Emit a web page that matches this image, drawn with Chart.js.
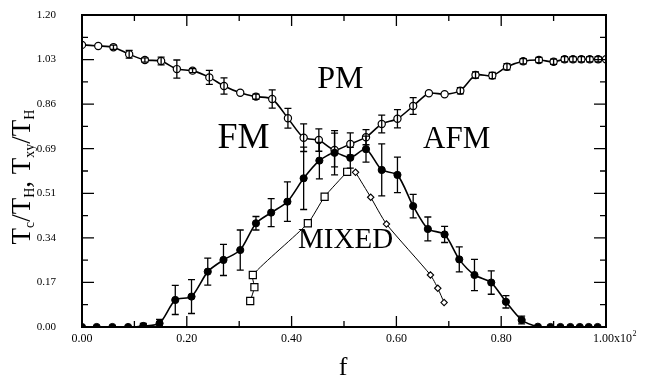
<!DOCTYPE html>
<html>
<head>
<meta charset="utf-8">
<script src="https://cdn.jsdelivr.net/npm/chart.js@4.4.1/dist/chart.umd.min.js"></script>
<style>
html, body { margin: 0; padding: 0; background: #fff; }
</style>
</head>
<body>
<canvas id="myChart" width="645" height="379"></canvas>
<script>
// upper curve (open circles), PM boundary
const pm_f = [0.000, 0.031, 0.060, 0.090, 0.120, 0.151, 0.181, 0.211, 0.243, 0.271, 0.302, 0.332, 0.363, 0.393,
    0.423, 0.452, 0.482, 0.512, 0.542, 0.572, 0.602, 0.632, 0.662, 0.692, 0.722, 0.751, 0.783, 0.811, 0.842,
    0.872, 0.900, 0.921, 0.937, 0.953, 0.969, 0.985, 1.000];
const pm_t = [1.085, 1.081, 1.076, 1.049, 1.027, 1.023, 0.992, 0.986, 0.960, 0.927, 0.901, 0.886, 0.877, 0.803,
    0.728, 0.719, 0.681, 0.704, 0.730, 0.781, 0.801, 0.850, 0.899, 0.895, 0.909, 0.969, 0.967, 1.001, 1.022,
    1.027, 1.020, 1.030, 1.030, 1.030, 1.030, 1.030, 1.030];
const pm_err = [0, 0, 0.008, 0.015, 0.008, 0.015, 0.035, 0.008, 0.027, 0.031, 0, 0.010, 0.035, 0.038,
    0.053, 0.043, 0.065, 0.043, 0.029, 0.034, 0.035, 0.032, 0, 0, 0.012, 0.012, 0.012, 0.012, 0.010,
    0.010, 0.010, 0.010, 0.010, 0.010, 0.010, 0.010, 0];

// lower curve (filled circles)
const fm_f = [0.000, 0.028, 0.058, 0.088, 0.117, 0.148, 0.178, 0.209, 0.240, 0.270, 0.302, 0.332, 0.361, 0.392,
    0.423, 0.453, 0.482, 0.512, 0.542, 0.572, 0.602, 0.632, 0.660, 0.692, 0.720, 0.749, 0.781, 0.809, 0.839,
    0.870, 0.894, 0.913, 0.932, 0.950, 0.967, 0.984];
const fm_t = [0.000, 0.000, 0.000, 0.000, 0.004, 0.014, 0.104, 0.117, 0.213, 0.258, 0.296, 0.399, 0.440, 0.482,
    0.572, 0.640, 0.670, 0.651, 0.684, 0.604, 0.585, 0.465, 0.377, 0.356, 0.260, 0.200, 0.171, 0.097, 0.027,
    0.001, 0.000, 0.000, 0.000, 0.000, 0.000, 0.000];
const fm_err = [0, 0, 0, 0, 0.010, 0.015, 0.056, 0.065, 0.052, 0.060, 0.077, 0.026, 0.054, 0.076,
    0.120, 0.070, 0.085, 0.040, 0.050, 0.100, 0.068, 0.045, 0.046, 0.031, 0.048, 0.060, 0.045, 0.024, 0.015,
    0, 0, 0, 0, 0, 0, 0];

// mixed phase, left branch (squares) and right branch (diamonds)
const mix_sq_f = [0.321, 0.329, 0.326, 0.431, 0.463, 0.506];
const mix_sq_t = [0.100, 0.153, 0.200, 0.399, 0.501, 0.597];
const mix_di_f = [0.522, 0.551, 0.581, 0.665, 0.679, 0.691];
const mix_di_t = [0.595, 0.499, 0.396, 0.200, 0.149, 0.094];

const x_ticks = [0, 0.2, 0.4, 0.6, 0.8, 1.0];
const x_tick_labels = ['0.00', '0.20', '0.40', '0.60', '0.80', '1.00x10'];
const y_tick_labels = ['0.00', '0.17', '0.34', '0.51', '0.69', '0.86', '1.03', '1.20'];

const phase_labels = [
    { text: 'PM', f: 0.493, t: 0.919, size: 32 },
    { text: 'FM', f: 0.308, t: 0.688, size: 36 },
    { text: 'AFM', f: 0.715, t: 0.688, size: 31 },
    { text: 'MIXED', f: 0.503, t: 0.304, size: 29 },
];

const SERIF = '"Liberation Serif", "DejaVu Serif", serif';

function pts(xs, ys) {
    return xs.map((x, i) => ({ x: x, y: ys[i] }));
}

const errorBars = {
    id: 'errorBars',
    afterDatasetsDraw(chart) {
        const ctx = chart.ctx;
        const xs = chart.scales.x, ys = chart.scales.y;
        ctx.save();
        ctx.strokeStyle = '#000';
        ctx.lineWidth = 1.3;
        chart.data.datasets.forEach(ds => {
            if (!ds.errors) return;
            ds.data.forEach((p, i) => {
                const e = ds.errors[i];
                if (!e) return;
                const px = xs.getPixelForValue(p.x);
                const y1 = ys.getPixelForValue(p.y + e);
                const y2 = ys.getPixelForValue(Math.max(0, p.y - e));
                ctx.beginPath();
                ctx.moveTo(px, y1); ctx.lineTo(px, y2);
                ctx.moveTo(px - 3.5, y1); ctx.lineTo(px + 3.5, y1);
                ctx.moveTo(px - 3.5, y2); ctx.lineTo(px + 3.5, y2);
                ctx.stroke();
            });
        });
        ctx.restore();
    }
};

const frame = {
    id: 'frame',
    afterDraw(chart) {
        const ctx = chart.ctx;
        const a = chart.chartArea;
        const xs = chart.scales.x, ys = chart.scales.y;
        ctx.save();
        ctx.strokeStyle = '#000';
        ctx.fillStyle = '#000';

        // inward ticks, major and minor
        ctx.lineWidth = 1.3;
        ctx.beginPath();
        for (let i = 0; i <= 10; i++) {
            const px = xs.getPixelForValue(i / 10);
            const len = i % 2 === 0 ? 11 : 6;
            ctx.moveTo(px, a.bottom); ctx.lineTo(px, a.bottom - len);
            ctx.moveTo(px, a.top); ctx.lineTo(px, a.top + len);
        }
        const ystep = 1.2 / (y_tick_labels.length - 1);
        for (let i = 0; i <= 2 * (y_tick_labels.length - 1); i++) {
            const py = ys.getPixelForValue(i * ystep / 2);
            const len = i % 2 === 0 ? 12 : 6;
            ctx.moveTo(a.left, py); ctx.lineTo(a.left + len, py);
            ctx.moveTo(a.right, py); ctx.lineTo(a.right - len, py);
        }
        ctx.stroke();

        // frame
        ctx.lineWidth = 2;
        ctx.strokeRect(a.left, a.top, a.right - a.left, a.bottom - a.top);

        // y tick labels
        ctx.font = '11px ' + SERIF;
        ctx.textAlign = 'right';
        ctx.textBaseline = 'middle';
        y_tick_labels.forEach((lab, i) => {
            ctx.fillText(lab, a.left - 26, ys.getPixelForValue(i * ystep));
        });

        // x tick labels
        ctx.textBaseline = 'top';
        x_tick_labels.forEach((lab, i) => {
            const px = xs.getPixelForValue(x_ticks[i]);
            if (lab.indexOf('x10') > 0) {
                ctx.textAlign = 'left';
                const x0 = px - 13;
                ctx.font = '12px ' + SERIF;
                ctx.fillText(lab, x0, a.bottom + 6);
                const w = ctx.measureText(lab).width;
                ctx.font = '8px ' + SERIF;
                ctx.fillText('2', x0 + w + 0.5, a.bottom + 3);
            } else {
                ctx.textAlign = 'center';
                ctx.font = '12px ' + SERIF;
                ctx.fillText(lab, px, a.bottom + 6);
            }
        });

        // x title
        ctx.font = '26px ' + SERIF;
        ctx.textAlign = 'center';
        ctx.textBaseline = 'alphabetic';
        ctx.fillText('f', 343, 375);

        // y title with subscripts, rotated
        const parts = [['T', 0], ['c', 1], ['/', 0], ['T', 0], ['H', 1], [', ', 0], ['T', 0], ['xy', 1],
            ['/', 0], ['T', 0], ['H', 1]];
        const mainF = '27px ' + SERIF, subF = '14px ' + SERIF;
        let total = 0;
        parts.forEach(p => { ctx.font = p[1] ? subF : mainF; total += ctx.measureText(p[0]).width; });
        ctx.translate(30, 177);
        ctx.rotate(-Math.PI / 2);
        ctx.textAlign = 'left';
        let cx = -total / 2;
        parts.forEach(p => {
            ctx.font = p[1] ? subF : mainF;
            ctx.fillText(p[0], cx, p[1] ? 4 : 0);
            cx += ctx.measureText(p[0]).width;
        });
        ctx.restore();

        // phase labels
        ctx.save();
        ctx.fillStyle = '#000';
        ctx.textAlign = 'center';
        ctx.textBaseline = 'alphabetic';
        phase_labels.forEach(l => {
            ctx.font = l.size + 'px ' + SERIF;
            ctx.fillText(l.text, xs.getPixelForValue(l.f), ys.getPixelForValue(l.t));
        });
        ctx.restore();
    }
};

const myChart = new Chart('myChart', {
    type: 'line',
    data: {
        datasets: [
            {
                label: 'mixed squares',
                data: pts(mix_sq_f, mix_sq_t),
                borderColor: '#000',
                borderWidth: 1,
                backgroundColor: '#fff',
                pointStyle: 'rect',
                pointRadius: 5,
                pointBorderWidth: 1.2,
                pointBorderColor: '#000',
                pointBackgroundColor: '#fff',
                tension: 0.2,
            },
            {
                label: 'mixed diamonds',
                data: pts(mix_di_f, mix_di_t),
                borderColor: '#000',
                borderWidth: 1,
                pointStyle: 'rectRot',
                pointRadius: 3.2,
                pointBorderWidth: 1.1,
                pointBorderColor: '#000',
                pointBackgroundColor: '#fff',
                tension: 0.2,
            },
            {
                label: 'Tc',
                data: pts(fm_f, fm_t),
                errors: fm_err,
                borderColor: '#000',
                borderWidth: 1.6,
                pointStyle: 'circle',
                pointRadius: 3.6,
                pointBorderWidth: 1,
                pointBorderColor: '#000',
                pointBackgroundColor: '#000',
                tension: 0.25,
            },
            {
                label: 'PM',
                data: pts(pm_f, pm_t),
                errors: pm_err,
                borderColor: '#000',
                borderWidth: 1.6,
                pointStyle: 'circle',
                pointRadius: 3.6,
                pointBorderWidth: 1.2,
                pointBorderColor: '#000',
                pointBackgroundColor: '#fff',
                tension: 0.25,
            },
        ]
    },
    options: {
        responsive: false,
        animation: false,
        devicePixelRatio: 1,
        layout: { padding: { left: 82, right: 39, top: 15, bottom: 52 } },
        plugins: { legend: { display: false }, tooltip: { enabled: false } },
        scales: {
            x: { type: 'linear', min: 0, max: 1, display: false },
            y: { type: 'linear', min: 0, max: 1.2, display: false }
        },
        elements: { point: { hitRadius: 0 } }
    },
    plugins: [errorBars, frame]
});
</script>
</body>
</html>
